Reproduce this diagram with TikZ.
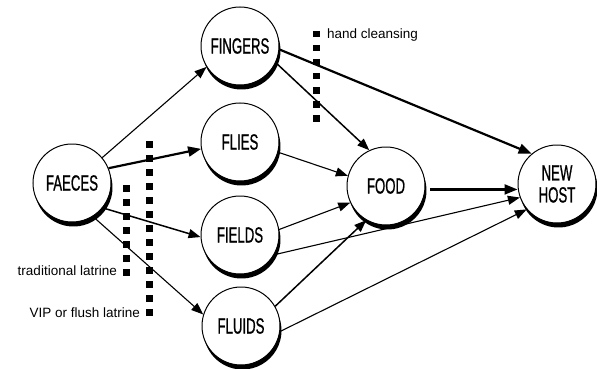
\documentclass[tikz,border=0pt]{standalone}
\usepackage{fontspec}
\setmainfont{Liberation Sans}
\newfontfamily\nodefont[FakeStretch=0.6,FakeBold=0.8]{Liberation Sans}
\usetikzlibrary{arrows.meta}
\newcommand\castshadow[1]{%
  \fill[blobshadow] (#1.center) ++(-14.9:39) arc[start angle=-14.9,end angle=158.1,radius=39]
    arc[start angle=165.1,end angle=-21.9,radius=39] -- cycle;}
\begin{document}
\begin{tikzpicture}[x=1pt,y=-1pt,
  blob/.style={circle,draw,line width=1pt,fill=white,minimum size=78pt,inner sep=0pt,
    font=\nodefont\fontsize{22}{23}\selectfont,align=center},
  blobshadow/.style={fill=black,draw=none},
  thin/.style={line width=1.1pt,-{Triangle[length=12pt,width=9pt]}},
  med/.style={line width=1.5pt,-{Triangle[length=12pt,width=9pt]}},
  thick/.style={line width=2.2pt,-{Triangle[length=13pt,width=10pt]}},
  barrier/.style={line width=7pt,dash pattern=on 6.5pt off 7.5pt},
  lbl/.style={font=\fontsize{13.5}{15}\selectfont,inner sep=0pt}]
\useasboundingbox (0,0) rectangle (597,369);
% nodes
\node[blob] (faeces) at (72,183) {FAECES};
\node[blob] (fingers) at (240,46) {FINGERS};
\node[blob] (flies) at (240,142) {FLIES};
\node[blob] (fields) at (240,235) {FIELDS};
\node[blob] (fluids) at (241,326) {FLUIDS};
\node[blob] (food) at (386,186) {FOOD};
\node[blob] (host) at (557,184) {NEW\\[-1pt]HOST};
% shadows
\castshadow{faeces}
\castshadow{fingers}
\castshadow{flies}
\castshadow{fields}
\castshadow{fluids}
\castshadow{food}
\castshadow{host}
% barriers
\coordinate (h1) at (316.5,31);
\coordinate (h2) at (316.5,123);
\coordinate (t1) at (126,185);
\coordinate (t2) at (126,277);
\coordinate (v1) at (149.5,141);
\coordinate (v2) at (149.5,318);
\draw[barrier] (h1) -- (h2);
\draw[barrier] (t1) -- (t2);
\draw[barrier] (v1) -- (v2);
\node[lbl,anchor=west] (hc) at (327,35) {hand cleansing};
\node[lbl,anchor=east] (tl) at (117,271) {traditional latrine};
\node[lbl,anchor=east] (vl) at (140,313) {VIP or flush latrine};
% connectors
\draw[thin] (faeces.40) -- (fingers.212);
\draw[thick] (faeces.22) -- (flies.190);
\draw[med] (faeces.-39) -- (fields.183);
\draw[thin] (faeces.-58) -- (fluids.163);
\draw[med] (fingers.-25) -- (food.115);
\draw[thick] (fingers.-5) -- (host.130);
\draw[thin] (flies.-15) -- (food.165);
\draw[thin] (fields.8) -- (food.205);
\draw[thin] (fields.-30) -- (host.200);
\draw[med] (fluids.30) -- (food.240);
\draw[thin] (fluids.-8) -- (host.220);
\draw[thick,shorten <=5pt] (food.-5) -- (host.west |- food.-5);
\end{tikzpicture}
\end{document}
